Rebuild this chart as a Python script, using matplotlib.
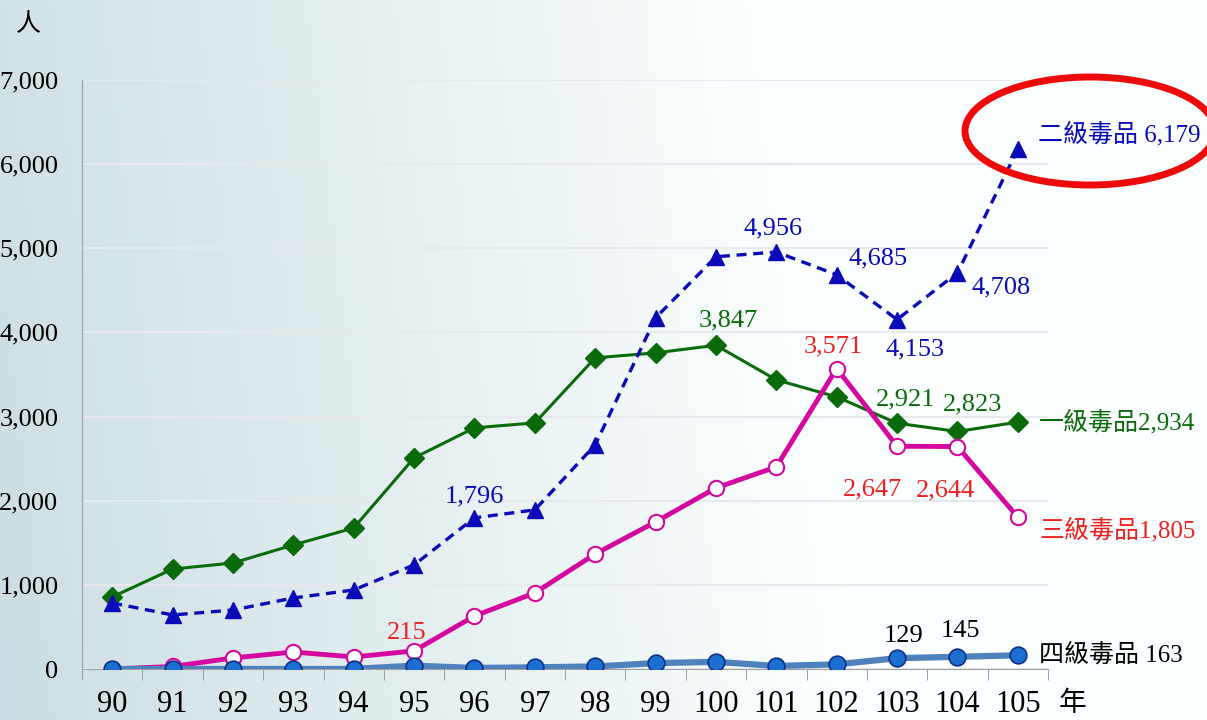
import numpy as np
import matplotlib
matplotlib.use("Agg")
import matplotlib.pyplot as plt
from matplotlib.patches import Ellipse
from matplotlib.ticker import FuncFormatter

plt.rcParams['font.family'] = ['Liberation Serif', 'Noto Sans CJK TC', 'DejaVu Sans']

years = ['90', '91', '92', '93', '94', '95', '96', '97', '98', '99', '100', '101', '102', '103', '104', '105']

# 一級毒品
level1 = [856, 1188, 1260, 1474, 1676, 2509, 2866, 2925, 3698, 3757, 3847, 3436, 3234, 2921, 2823, 2934]
# 二級毒品
level2 = [785, 642, 701, 844, 939, 1237, 1796, 1891, 2663, 4173, 4899, 4956, 4685, 4153, 4708, 6179]
# 三級毒品
level3 = [0, 30, 131, 202, 143, 215, 630, 904, 1367, 1748, 2152, 2402, 3571, 2647, 2644, 1805]
# 四級毒品
level4 = [0, 0, 0, 0, 0, 40, 12, 20, 30, 70, 85, 36, 55, 129, 145, 163]

green = '#0b6b0b'
blue = '#0a0ab8'
magenta = '#d4089e'
red = '#f02020'
steel = '#4f81bd'

fig = plt.figure(figsize=(12.07, 7.2), dpi=100)

# background gradient
bg = fig.add_axes([0, 0, 1, 1], zorder=-10)
gx = np.linspace(0, 1, 300)
gy = np.linspace(0, 1, 200)
X, Y = np.meshgrid(gx, gy)
t = np.clip(X * 1.4 + (1 - Y) * 0.1, 0, 1)
c_left = np.array([0.80, 0.87, 0.89])
c_right = np.array([0.99, 1.0, 1.0])
img = c_left[None, None, :] * (1 - t[..., None]) + c_right[None, None, :] * t[..., None]
bg.imshow(img, aspect='auto', extent=[0, 1, 0, 1], origin='upper')
bg.axis('off')

ax = fig.add_axes([82 / 1207, 1 - 669 / 720, (1048 - 82) / 1207, (669 - 80) / 720])
ax.patch.set_alpha(0)
x = np.arange(len(years))

ax.plot(x, level1, color=green, lw=2.2, marker='D', ms=10, mfc=green, mec=green, zorder=3)
ax.plot(x, level2, color=blue, lw=2.4, ls=(0, (3, 2)), marker='^', ms=11, mfc=blue, mec=blue, zorder=4)
ax.plot(x, level3, color=magenta, lw=3.5, marker='o', ms=11, mfc='white', mec=magenta, mew=1.5, zorder=5)
ax.plot(x, level4, color=steel, lw=4.5, marker='o', ms=12, mfc='#1c6fd0', mec='#0b2f8a', mew=1.2, zorder=6)

ax.set_xlim(-0.5, len(years) - 0.5)
ax.set_ylim(0, 7000)
ax.set_yticks(np.arange(0, 7001, 1000))
ax.yaxis.set_major_formatter(FuncFormatter(lambda v, p: f'{int(v):,}'))
ax.set_xticks(x)
ax.set_xticklabels(years)
ax.set_xticks(np.arange(-0.5, len(years), 1), minor=True)
ax.tick_params(axis='x', which='major', length=0, pad=15, labelsize=22)
ax.tick_params(axis='x', which='minor', length=8, direction='out', color='#909090')
ax.tick_params(axis='y', length=0, pad=17, labelsize=19)
ax.grid(axis='y', color='#e6eaec', lw=1.5, zorder=0)
for s in ['top', 'right']:
    ax.spines[s].set_visible(False)
ax.spines['left'].set_color('#a0a0a0')
ax.spines['bottom'].set_color('#a0a0a0')

fs = 19
cfs = 18
# 二級 labels
ax.text(6, 1796 + 120, '1,796', color=blue, fontsize=fs, ha='center', va='bottom')
ax.text(10.95, 4956 + 150, '4,956', color=blue, fontsize=fs, ha='center', va='bottom')
ax.text(12.2, 4685 + 60, '4,685', color=blue, fontsize=fs, ha='left', va='bottom')
ax.text(13.3, 4153 - 230, '4,153', color=blue, fontsize=fs, ha='center', va='top')
ax.text(14.23, 4708 - 170, '4,708', color=blue, fontsize=fs, ha='left', va='center')
ax.text(15.33, 6179 + 180, '二級毒品 6,179', color=blue, fontsize=cfs, ha='left', va='center', clip_on=False)
# 一級 labels
ax.text(10.2, 3847 + 170, '3,847', color=green, fontsize=fs, ha='center', va='bottom')
ax.text(13.15, 2921 + 150, '2,921', color=green, fontsize=fs, ha='center', va='bottom')
ax.text(14.25, 2823 + 190, '2,823', color=green, fontsize=fs, ha='center', va='bottom')
ax.text(15.35, 2934, '一級毒品2,934', color=green, fontsize=cfs, ha='left', va='center', clip_on=False)
# 三級 labels
ax.text(11.95, 3571 + 130, '3,571', color=red, fontsize=fs, ha='center', va='bottom')
ax.text(12.6, 2647 - 380, '2,647', color=red, fontsize=fs, ha='center', va='top')
ax.text(13.8, 2644 - 390, '2,644', color=red, fontsize=fs, ha='center', va='top')
ax.text(15.35, 1805 - 160, '三級毒品1,805', color=red, fontsize=cfs, ha='left', va='center', clip_on=False)
ax.text(4.87, 215 + 80, '215', color=red, fontsize=fs, ha='center', va='bottom')
# 四級 labels
ax.text(13.1, 129 + 130, '129', color='black', fontsize=fs, ha='center', va='bottom')
ax.text(14.05, 145 + 170, '145', color='black', fontsize=fs, ha='center', va='bottom')
ax.text(15.35, 163, '四級毒品 163', color='black', fontsize=cfs, ha='left', va='center', clip_on=False)

fig.text(28 / 1207, 1 - 25 / 720, '人', fontsize=18, ha='center', va='center')
fig.text(1073 / 1207, 1 - 704 / 720, '年', fontsize=20, ha='center', va='center')

ell = Ellipse((1090 / 1207, 1 - 131 / 720), 250 / 1207, 108 / 720, transform=fig.transFigure,
              fill=False, ec='#ee0a0a', lw=5, zorder=20)
fig.add_artist(ell)

fig.savefig('out.png', dpi=100)
